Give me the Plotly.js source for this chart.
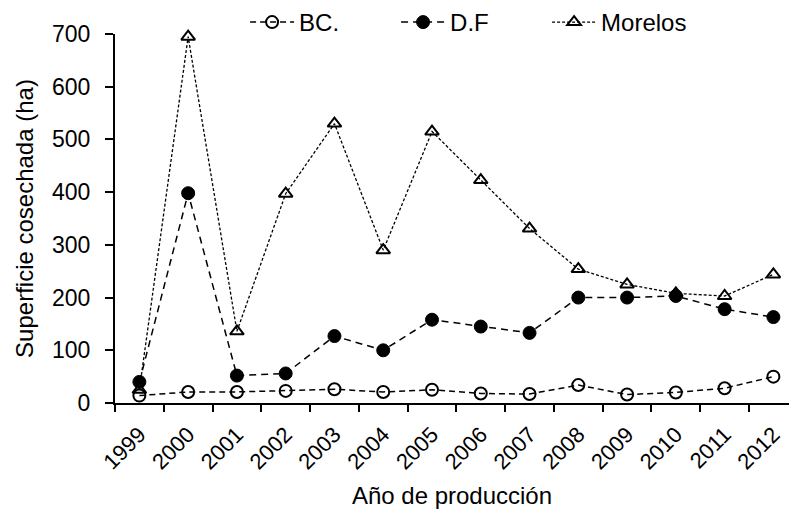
<!DOCTYPE html>
<html>
<head>
<meta charset="utf-8">
<script src="https://cdn.plot.ly/plotly-3.0.1.min.js"></script>
<style>
  html, body { margin: 0; padding: 0; background: #fff; }
  #chart { width: 789px; height: 512px; }
</style>
</head>
<body>
<div id="chart"></div>
<script>
const years = ["1999","2000","2001","2002","2003","2004","2005","2006","2007","2008","2009","2010","2011","2012"];
const bcValues = [14, 21, 21, 23, 26, 21, 25, 18, 17, 34, 16, 20, 28, 50];
const dfValues = [40, 398, 52, 56, 127, 100, 158, 145, 133, 200, 200, 203, 178, 163];
const morelosValues = [25, 695, 136, 397, 530, 290, 515, 423, 331, 254, 225, 208, 203, 244];
const seriesNames = ["BC.", "D.F", "Morelos"];
const yTickValues = [0, 100, 200, 300, 400, 500, 600, 700];

const FONT = "Arial, 'Liberation Sans', sans-serif";

const traces = [
  {
    x: years, y: bcValues, name: seriesNames[0], type: "scatter", mode: "lines+markers", cliponaxis: false,
    line: { color: "#000", width: 1.5, dash: "6px,4px" },
    marker: { symbol: "circle-open", size: 12, color: "#000", line: { width: 2, color: "#000" } }
  },
  {
    x: years, y: dfValues, name: seriesNames[1], type: "scatter", mode: "lines+markers", cliponaxis: false,
    line: { color: "#000", width: 1.5, dash: "7px,5px" },
    marker: { symbol: "circle", size: 13, color: "#000", line: { width: 1, color: "#000" } }
  },
  {
    x: years, y: morelosValues, name: seriesNames[2], type: "scatter", mode: "lines+markers", cliponaxis: false,
    line: { color: "#000", width: 1.3, dash: "3px,2px" },
    marker: { symbol: "triangle-up-open", size: 12, color: "#000", line: { width: 2, color: "#000" } }
  }
];

const layout = {
  width: 789, height: 512,
  margin: { l: 115, r: 0, t: 33, b: 109 },
  paper_bgcolor: "#fff", plot_bgcolor: "#fff",
  font: { family: FONT, size: 24, color: "#000" },
  showlegend: true,
  legend: {
    orientation: "h", x: 0.193, xanchor: "left", y: 1.03, yanchor: "middle",
    font: { family: FONT, size: 24, color: "#000" },
    bgcolor: "rgba(0,0,0,0)", itemwidth: 44, entrywidth: 92, tracegroupgap: 0
  },
  xaxis: {
    type: "category",
    range: [-0.5, 13.32],
    tickson: "boundaries",
    ticks: "outside", ticklen: 7, tickwidth: 2, tickcolor: "#000",
    showline: true, linecolor: "#000", linewidth: 2,
    showgrid: false, zeroline: false,
    tickangle: -45,
    ticklabelstandoff: 8,
    tickfont: { family: FONT, size: 22, color: "#000" },
    title: { text: "Año de producción", font: { family: FONT, size: 24, color: "#000" }, standoff: 14 },
    automargin: false
  },
  yaxis: {
    range: [0, 700],
    tickvals: yTickValues,
    ticks: "outside", ticklen: 8, tickwidth: 2, tickcolor: "#000",
    showline: true, linecolor: "#000", linewidth: 2,
    showgrid: false, zeroline: false,
    ticklabelstandoff: 10,
    tickfont: { family: FONT, size: 23, color: "#000" },
    title: { text: "Superficie cosechada (ha)", font: { family: FONT, size: 24, color: "#000" }, standoff: 12 },
    automargin: false
  }
};

Plotly.newPlot("chart", traces, layout, { displayModeBar: false, staticPlot: true });
</script>
</body>
</html>
